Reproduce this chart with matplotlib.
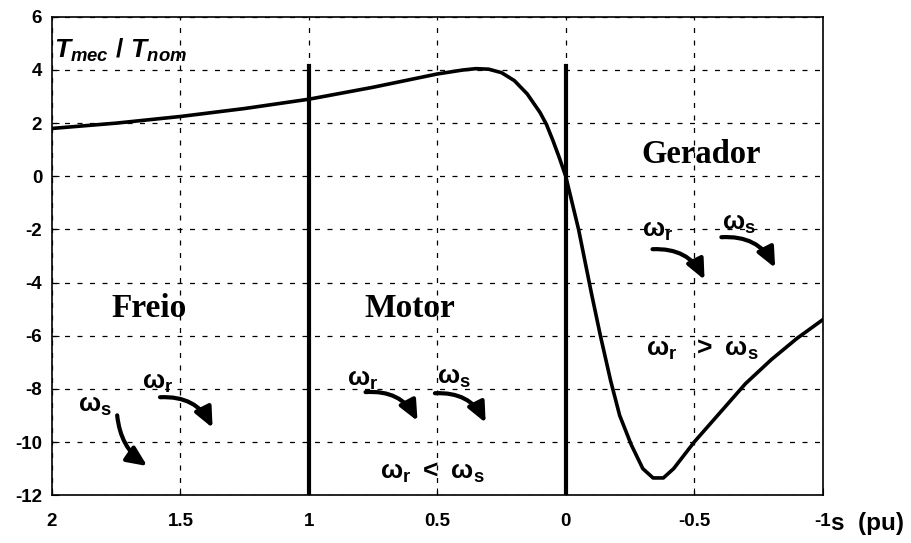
"""
Torque-slip characteristic of an induction machine (Freio / Motor / Gerador).
"""
import matplotlib
matplotlib.use("Agg")
import matplotlib.pyplot as plt
from matplotlib.patches import FancyArrowPatch

plt.rcParams["font.family"] = ["Liberation Sans", "DejaVu Sans"]
plt.rcParams["axes.unicode_minus"] = False
plt.rcParams["mathtext.fontset"] = "custom"
plt.rcParams["mathtext.rm"] = "Liberation Sans:bold"
plt.rcParams["mathtext.it"] = "Liberation Sans:bold:italic"
plt.rcParams["mathtext.bf"] = "Liberation Sans:bold"

# ── Data ─────────────────────────────────────────────────────────────────────
slip = [2.0, 1.75, 1.5, 1.25, 1.0, 0.75, 0.6, 0.5, 0.4, 0.35, 0.3, 0.25,
        0.2, 0.15, 0.1, 0.075, 0.05, 0.025, 0.0,
        -0.025, -0.05, -0.075, -0.1, -0.135, -0.175, -0.21, -0.255, -0.3,
        -0.34, -0.38, -0.42, -0.5, -0.6, -0.7, -0.8, -0.9, -1.0]
torque = [1.8, 2.0, 2.25, 2.55, 2.9, 3.35, 3.65, 3.85, 4.0, 4.05, 4.03, 3.9,
          3.6, 3.1, 2.4, 1.95, 1.35, 0.7, 0.0,
          -1.0, -2.0, -3.2, -4.4, -6.0, -7.7, -9.0, -10.1, -11.0,
          -11.35, -11.35, -11.0, -10.0, -8.9, -7.8, -6.9, -6.1, -5.4]

x_ticks = [2, 1.5, 1, 0.5, 0, -0.5, -1]
x_tick_labels = ["2", "1.5", "1", "0.5", "0", "-0.5", "-1"]
y_ticks = [6, 4, 2, 0, -2, -4, -6, -8, -10, -12]

# region boundaries (slip = 1 and slip = 0)
bounds = [1.0, 0.0]
bound_top = 4.15

# curved arrows: (start, end, bend) in data coordinates
arrows = [
    ((1.59, -8.32), (1.37, -9.56), -0.35),    # Freio wr
    ((1.747, -8.89), (1.62, -10.96), 0.25),   # Freio ws
    ((0.79, -8.13), (0.572, -9.3), -0.35),    # Motor wr
    ((0.52, -8.17), (0.307, -9.37), -0.35),   # Motor ws
    ((-0.327, -2.75), (-0.545, -3.99), -0.35),  # Gerador wr
    ((-0.595, -2.3), (-0.82, -3.54), -0.35),    # Gerador ws
]

# ── Figure ───────────────────────────────────────────────────────────────────
fig = plt.figure(figsize=(9.11, 5.43), dpi=100)
ax = fig.add_axes([0.057, 0.088, 0.846, 0.881])

ax.plot(slip, torque, color="black", linewidth=2.6, solid_joinstyle="round")
for b in bounds:
    ax.plot([b, b], [-12, bound_top], color="black", linewidth=3)

ax.set_xlim(2, -1)
ax.set_ylim(-12, 6)
ax.set_xticks(x_ticks)
ax.set_xticklabels(x_tick_labels)
ax.set_yticks(y_ticks)
ax.grid(True, color="black", linestyle=(0, (4, 6)), linewidth=0.9)
ax.tick_params(direction="in", length=5, labelsize=13.5)
ax.tick_params(axis="x", pad=13)
ax.tick_params(axis="y", pad=7)
for lbl in ax.get_xticklabels() + ax.get_yticklabels():
    lbl.set_fontweight("bold")
for sp in ax.spines.values():
    sp.set_linewidth(1.2)

# labels
ax.text(1.99, 4.45, r"$T_{mec}\ /\ T_{nom}$", fontsize=19)
fig.text(0.912, 0.024, "s  (pu)", fontsize=17.5, fontweight="bold")

serif = ["Liberation Serif", "DejaVu Serif"]
ax.text(1.767, -5.3, "Freio", family=serif, fontsize=24, fontweight="bold")
ax.text(0.782, -5.3, "Motor", family=serif, fontsize=24, fontweight="bold")
ax.text(-0.296, 0.49, "Gerador", family=serif, fontsize=23.5, fontweight="bold")

om = 19
ax.text(1.65, -7.98, r"$\mathrm{\omega_r}$", fontsize=om)
ax.text(1.90, -8.85, r"$\mathrm{\omega_s}$", fontsize=om)
ax.text(0.852, -7.87, r"$\mathrm{\omega_r}$", fontsize=om)
ax.text(0.502, -7.8, r"$\mathrm{\omega_s}$", fontsize=om)
ax.text(0.724, -11.37, r"$\mathrm{\omega_r\ <\ \omega_s}$", fontsize=om)
ax.text(-0.296, -2.26, r"$\mathrm{\omega_r}$", fontsize=om)
ax.text(-0.607, -2.0, r"$\mathrm{\omega_s}$", fontsize=om)
ax.text(-0.311, -6.75, r"$\mathrm{\omega_r\ \ >\ \omega_s}$", fontsize=om)

for start, end, bend in arrows:
    ax.add_patch(FancyArrowPatch(start, end, connectionstyle=f"arc3,rad={bend}",
                                 arrowstyle="-|>,head_length=10,head_width=4.5",
                                 color="black", linewidth=3, mutation_scale=1.2))

fig.savefig("out.png", dpi=100)
plt.close(fig)
